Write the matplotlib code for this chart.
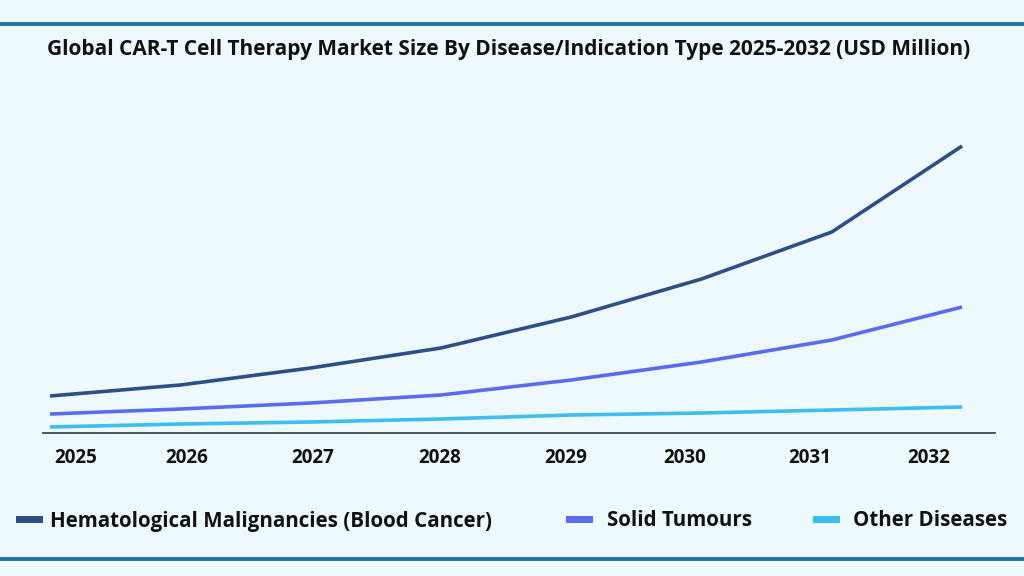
import matplotlib.pyplot as plt
from matplotlib.patches import Rectangle
from matplotlib.lines import Line2D

# Market size values (USD Million)
years = ['2025', '2026', '2027', '2028', '2029', '2030', '2031', '2032']
hemato = [370, 480, 650, 850, 1160, 1540, 2010, 2870]
solid = [190, 240, 300, 380, 530, 710, 930, 1260]
other = [60, 90, 110, 140, 180, 200, 230, 260]

series_names = ['Hematological Malignancies (Blood Cancer)', 'Solid Tumours', 'Other Diseases']
colors = ['#2D4F86', '#5B6BF0', '#3DBEEE']

bg = '#EDF9FD'
border = '#1B74A2'

W, H = 1024, 576
fig = plt.figure(figsize=(W / 100, H / 100), dpi=100, facecolor=bg)
plt.rcParams['font.family'] = ['Open Sans', 'DejaVu Sans']

# axes: baseline at y=433 px, top at y=100 px, x from 43 to 995 px
ax = fig.add_axes([43 / W, 1 - 433 / H, (995 - 43) / W, (433 - 100) / H])
ax.set_facecolor(bg)

x = list(range(len(years)))
for vals, c in zip([hemato, solid, other], colors):
    ax.plot(x, vals, color=c, lw=2.6, solid_capstyle='butt')

ax.set_xlim((43 - 50) / 130.3, (995 - 50) / 130.3)
ax.set_ylim(0, 3330)
for s in ['top', 'right', 'left']:
    ax.spines[s].set_visible(False)
ax.spines['bottom'].set_color('#2A3A45')
ax.spines['bottom'].set_linewidth(1.2)
ax.set_yticks([])

tick_pos = [0.2, 1.05, 2.02, 2.99, 3.96, 4.87, 5.83, 6.74]
ax.set_xticks(tick_pos)
ax.set_xticklabels(years, fontsize=13.5, fontweight='bold', color='#111111')
ax.tick_params(axis='x', length=0, pad=11)

fig.text(509 / W, 1 - 49 / H,
         'Global CAR-T Cell Therapy Market Size By Disease/Indication Type 2025-2032 (USD Million)',
         ha='center', va='center', fontsize=15, fontweight='bold', color='#111111')

# top and bottom border lines
fig.add_artist(Line2D([0, 1], [1 - 24 / H, 1 - 24 / H], color=border, lw=2.8))
fig.add_artist(Line2D([0, 1], [1 - 559 / H, 1 - 559 / H], color=border, lw=2.8))

# legend, placed by hand
handle_x = [16, 566, 813]
text_x = [50, 607, 853]
ly = 519
for hx, tx, name, c in zip(handle_x, text_x, series_names, colors):
    fig.add_artist(Rectangle((hx / W, 1 - (ly + 3.5) / H), 27 / W, 7 / H,
                             transform=fig.transFigure, color=c, lw=0))
    fig.text(tx / W, 1 - (ly + 2) / H, name, ha='left', va='center',
             fontsize=14.8, fontweight='bold', color='#111111')

fig.savefig('out.png', dpi=100, facecolor=bg)
